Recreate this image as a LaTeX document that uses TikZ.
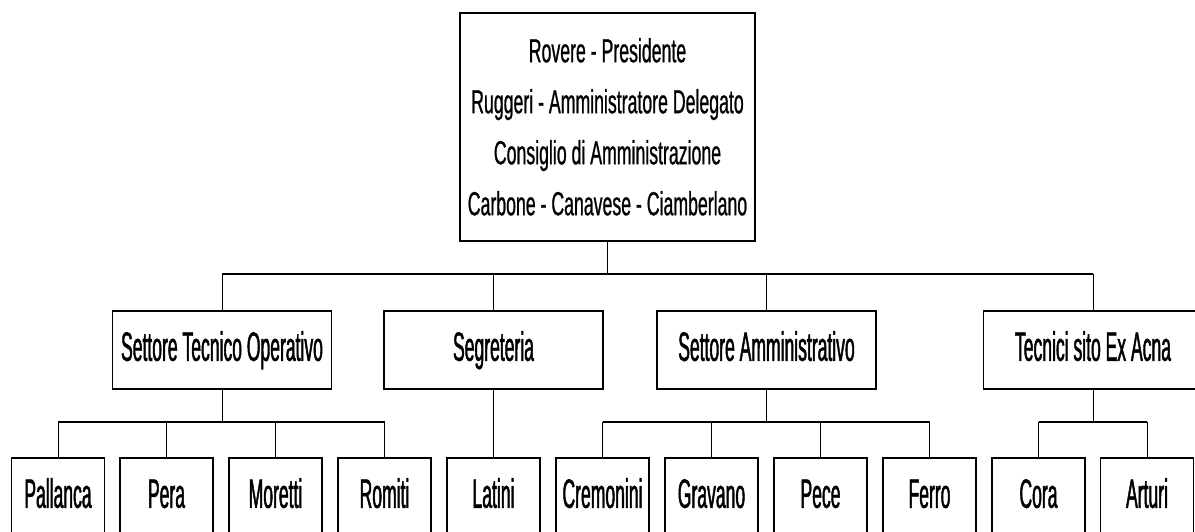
\documentclass[tikz,border=0pt]{standalone}
\usepackage{fontspec}
\setmainfont{Liberation Sans}
\newfontfamily\lowfont[FakeStretch=0.428,FakeBold=1.1]{Liberation Sans}
\newfontfamily\topfont[FakeStretch=0.53,FakeBold=0.7]{Liberation Sans}
\begin{document}
\begin{tikzpicture}[x=1pt,y=-1pt,
  box/.style={draw=black, line width=1.6pt, fill=white, inner sep=0pt, anchor=north,
    font=\lowfont\fontsize{41}{46}\selectfont, text height=28pt, text depth=6pt},
  midbox/.style={box, minimum width=219pt, minimum height=78pt},
  leafbox/.style={box, minimum width=93pt, minimum height=78pt},
  topbox/.style={draw=black, line width=1.6pt, fill=white, inner sep=0pt, anchor=north,
    minimum width=295pt, minimum height=228pt, align=center,
    font=\topfont\fontsize{33.4}{51}\selectfont},
  link/.style={draw=black, line width=1pt},
  bus/.style={draw=black, line width=1.6pt}]
\useasboundingbox (0,0) rectangle (1195,531);
\clip (0,0) rectangle (1195,531);
\fill[white] (0,0) rectangle (1195,531);

% top
\node[topbox] (top) at (607.5,12) {Rovere - Presidente\\Ruggeri - Amministratore Delegato\\Consiglio di Amministrazione\\Carbone - Canavese - Ciamberlano};

% level 2
\node[midbox] (sto) at (222,310) {Settore Tecnico Operativo};
\node[midbox] (seg) at (493.5,310) {Segreteria};
\node[midbox] (sam) at (766.5,310) {Settore Amministrativo};
\node[midbox] (tec) at (1093,310) {Tecnici sito Ex Acna};

% level 3
\node[leafbox] (pal) at (58,457) {Pallanca};
\node[leafbox] (per) at (166.5,457) {Pera};
\node[leafbox] (mor) at (275.5,457) {Moretti};
\node[leafbox] (rom) at (384.5,457) {Romiti};
\node[leafbox] (lat) at (493.5,457) {Latini};
\node[leafbox] (cre) at (602.5,457) {Cremonini};
\node[leafbox] (gra) at (711.5,457) {Gravano};
\node[leafbox] (pec) at (820.5,457) {Pece};
\node[leafbox] (fer) at (929.5,457) {Ferro};
\node[leafbox] (cor) at (1038.5,457) {Cora};
\node[leafbox] (art) at (1147,457) {Arturi};

% bus coordinates
\coordinate (b1) at (607.5,274);
\coordinate (b2) at (0,422);

% top -> level 2
\draw[link] (top.south) -- (b1);
\draw[bus] (sto.north |- b1) -- (tec.north |- b1);
\foreach \n in {sto,seg,sam,tec} \draw[link] (\n.north |- b1) -- (\n.north);

% level 2 -> level 3
\draw[link] (sto.south) -- (sto.south |- b2);
\draw[bus] (pal.north |- b2) -- (rom.north |- b2);
\foreach \n in {pal,per,mor,rom} \draw[link] (\n.north |- b2) -- (\n.north);

\draw[link] (seg.south) -- (lat.north);

\draw[link] (sam.south) -- (sam.south |- b2);
\draw[bus] (cre.north |- b2) -- (fer.north |- b2);
\foreach \n in {cre,gra,pec,fer} \draw[link] (\n.north |- b2) -- (\n.north);

\draw[link] (tec.south) -- (tec.south |- b2);
\draw[bus] (cor.north |- b2) -- (art.north |- b2);
\foreach \n in {cor,art} \draw[link] (\n.north |- b2) -- (\n.north);
\end{tikzpicture}
\end{document}
